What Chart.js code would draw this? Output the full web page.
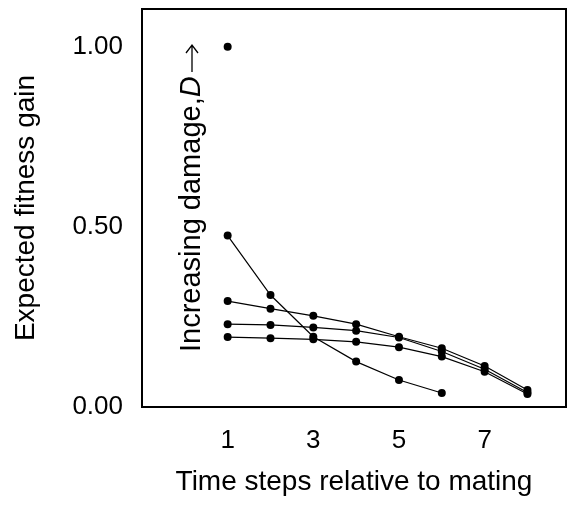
<!DOCTYPE html>
<html>
<head>
<meta charset="utf-8">
<script src="https://cdn.jsdelivr.net/npm/chart.js@4"></script>
<style>
  html, body { margin: 0; padding: 0; background: #fff; }
  #wrap { width: 570px; height: 506px; }
</style>
</head>
<body>
<div id="wrap"><canvas id="fitness"></canvas></div>
<script>
var steps = [1, 2, 3, 4, 5, 6, 7, 8];
var xTicks = [1, 3, 5, 7];
var yTicks = [0, 0.5, 1];

// one curve per damage level, lowest damage first
var damage1 = [0.194, 0.191, 0.188, 0.181, 0.166, 0.140, 0.098, 0.036];
var damage2 = [0.230, 0.228, 0.221, 0.212, 0.193, 0.154, 0.105, 0.040];
var damage3 = [0.294, 0.273, 0.253, 0.230, 0.195, 0.163, 0.114, 0.047];
var damage4 = [0.476, 0.311, 0.195, 0.126, 0.075, 0.039];
var damage5 = [1.00];

function pts(vals) {
    return vals.map(function (v, i) { return { x: steps[i], y: v }; });
}

var font = "'Liberation Sans', Arial, sans-serif";

function curve(vals) {
    return {
        data: pts(vals),
        showLine: true,
        borderColor: '#000',
        borderWidth: 1.2,
        pointRadius: 4,
        pointBackgroundColor: '#000',
        pointBorderWidth: 0
    };
}

var frame = {
    id: 'frame',
    afterDraw: function (chart) {
        var a = chart.chartArea;
        var ctx = chart.ctx;
        ctx.save();
        ctx.strokeStyle = '#000';
        ctx.lineWidth = 2;
        ctx.strokeRect(a.left, a.top, a.right - a.left, a.bottom - a.top);

        // rotated note inside the plot
        ctx.translate(200, 352);
        ctx.rotate(-Math.PI / 2);
        ctx.fillStyle = '#000';
        ctx.textBaseline = 'alphabetic';
        ctx.font = '29px ' + font;
        var s1 = 'Increasing damage,';
        ctx.fillText(s1, 0, 0);
        var w = ctx.measureText(s1).width;
        ctx.font = 'italic 29px ' + font;
        ctx.fillText('D', w, 0);
        // arrow
        ctx.strokeStyle = '#000';
        ctx.lineWidth = 1.3;
        ctx.beginPath();
        ctx.moveTo(280, -8);
        ctx.lineTo(307, -8);
        ctx.moveTo(299, -14);
        ctx.lineTo(307, -8);
        ctx.lineTo(299, -2);
        ctx.stroke();
        ctx.restore();
    }
};

var ctx = document.getElementById('fitness').getContext('2d');
var chart = new Chart(ctx, {
    type: 'scatter',
    data: {
        datasets: [curve(damage1), curve(damage2), curve(damage3), curve(damage4), curve(damage5)]
    },
    options: {
        responsive: true,
        maintainAspectRatio: false,
        animation: false,
        layout: { padding: { top: 9, right: 1, left: 0, bottom: 0 } },
        plugins: { legend: { display: false }, tooltip: { enabled: false } },
        scales: {
            x: {
                type: 'linear',
                min: -1,
                max: 8.9,
                grid: { display: false, drawTicks: false },
                border: { display: false },
                afterBuildTicks: function (s) { s.ticks = xTicks.map(function (v) { return { value: v }; }); },
                afterFit: function (s) { s.height = 99; s.paddingLeft = 0; s.paddingRight = 0; },
                ticks: { color: '#000', padding: 18, font: { family: font, size: 26 } },
                title: {
                    display: true,
                    text: 'Time steps relative to mating',
                    color: '#000',
                    padding: { top: 0, bottom: 7 },
                    font: { family: font, size: 28 }
                }
            },
            y: {
                min: 0,
                max: 1.105,
                grid: { display: false, drawTicks: false },
                border: { display: false },
                afterBuildTicks: function (s) { s.ticks = yTicks.map(function (v) { return { value: v }; }); },
                afterFit: function (s) { s.width = 142; s.paddingTop = 0; s.paddingBottom = 0; },
                ticks: {
                    color: '#000',
                    padding: 19,
                    font: { family: font, size: 26 },
                    callback: function (v) { return v.toFixed(2); }
                },
                title: {
                    display: true,
                    text: 'Expected fitness gain',
                    color: '#000',
                    padding: { top: 9, bottom: 0 },
                    font: { family: font, size: 28 }
                }
            }
        }
    },
    plugins: [frame]
});
</script>
</body>
</html>
